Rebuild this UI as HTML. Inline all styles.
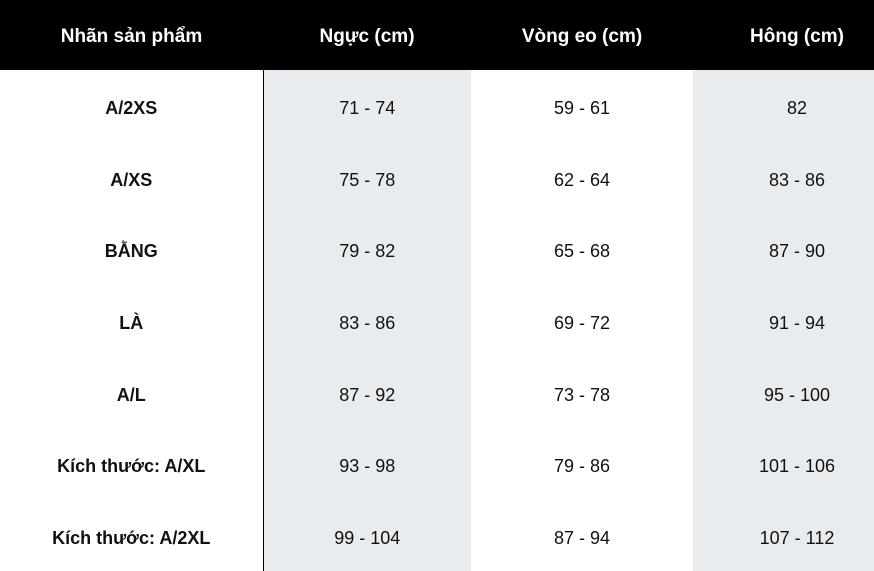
<!DOCTYPE html>
<html><head><meta charset="utf-8">
<style>
html,body{margin:0;padding:0;background:#fff;}
body{width:874px;height:571px;overflow:hidden;font-family:"Liberation Sans","DejaVu Sans",sans-serif;}
table{border-collapse:collapse;table-layout:fixed;width:901px;}
th{background:#000;color:#fff;font-weight:bold;font-size:19px;height:70px;padding:3px 0 0 0;box-sizing:border-box;text-align:center;}
td{height:71.6px;padding:6px 0 0 0;box-sizing:border-box;text-align:center;font-size:18px;color:#111;}
td.lab{font-weight:bold;border-right:1px solid #000;}
td.g{background:#e9ecef;}
</style></head><body>
<table>
<colgroup><col style="width:263px"><col style="width:208px"><col style="width:222px"><col style="width:208px"></colgroup>
<thead><tr>
<th>Nhãn sản phẩm</th>
<th>Ngực (cm)</th>
<th>Vòng eo (cm)</th>
<th>Hông (cm)</th>
</tr></thead>
<tbody>
<tr><td class="lab">A/2XS</td><td class="g">71 - 74</td><td>59 - 61</td><td class="g">82</td></tr>
<tr><td class="lab">A/XS</td><td class="g">75 - 78</td><td>62 - 64</td><td class="g">83 - 86</td></tr>
<tr><td class="lab">BẰNG</td><td class="g">79 - 82</td><td>65 - 68</td><td class="g">87 - 90</td></tr>
<tr><td class="lab">LÀ</td><td class="g">83 - 86</td><td>69 - 72</td><td class="g">91 - 94</td></tr>
<tr><td class="lab">A/L</td><td class="g">87 - 92</td><td>73 - 78</td><td class="g">95 - 100</td></tr>
<tr><td class="lab">Kích thước: A/XL</td><td class="g">93 - 98</td><td>79 - 86</td><td class="g">101 - 106</td></tr>
<tr><td class="lab">Kích thước: A/2XL</td><td class="g">99 - 104</td><td>87 - 94</td><td class="g">107 - 112</td></tr>
</tbody></table>
</body></html>
